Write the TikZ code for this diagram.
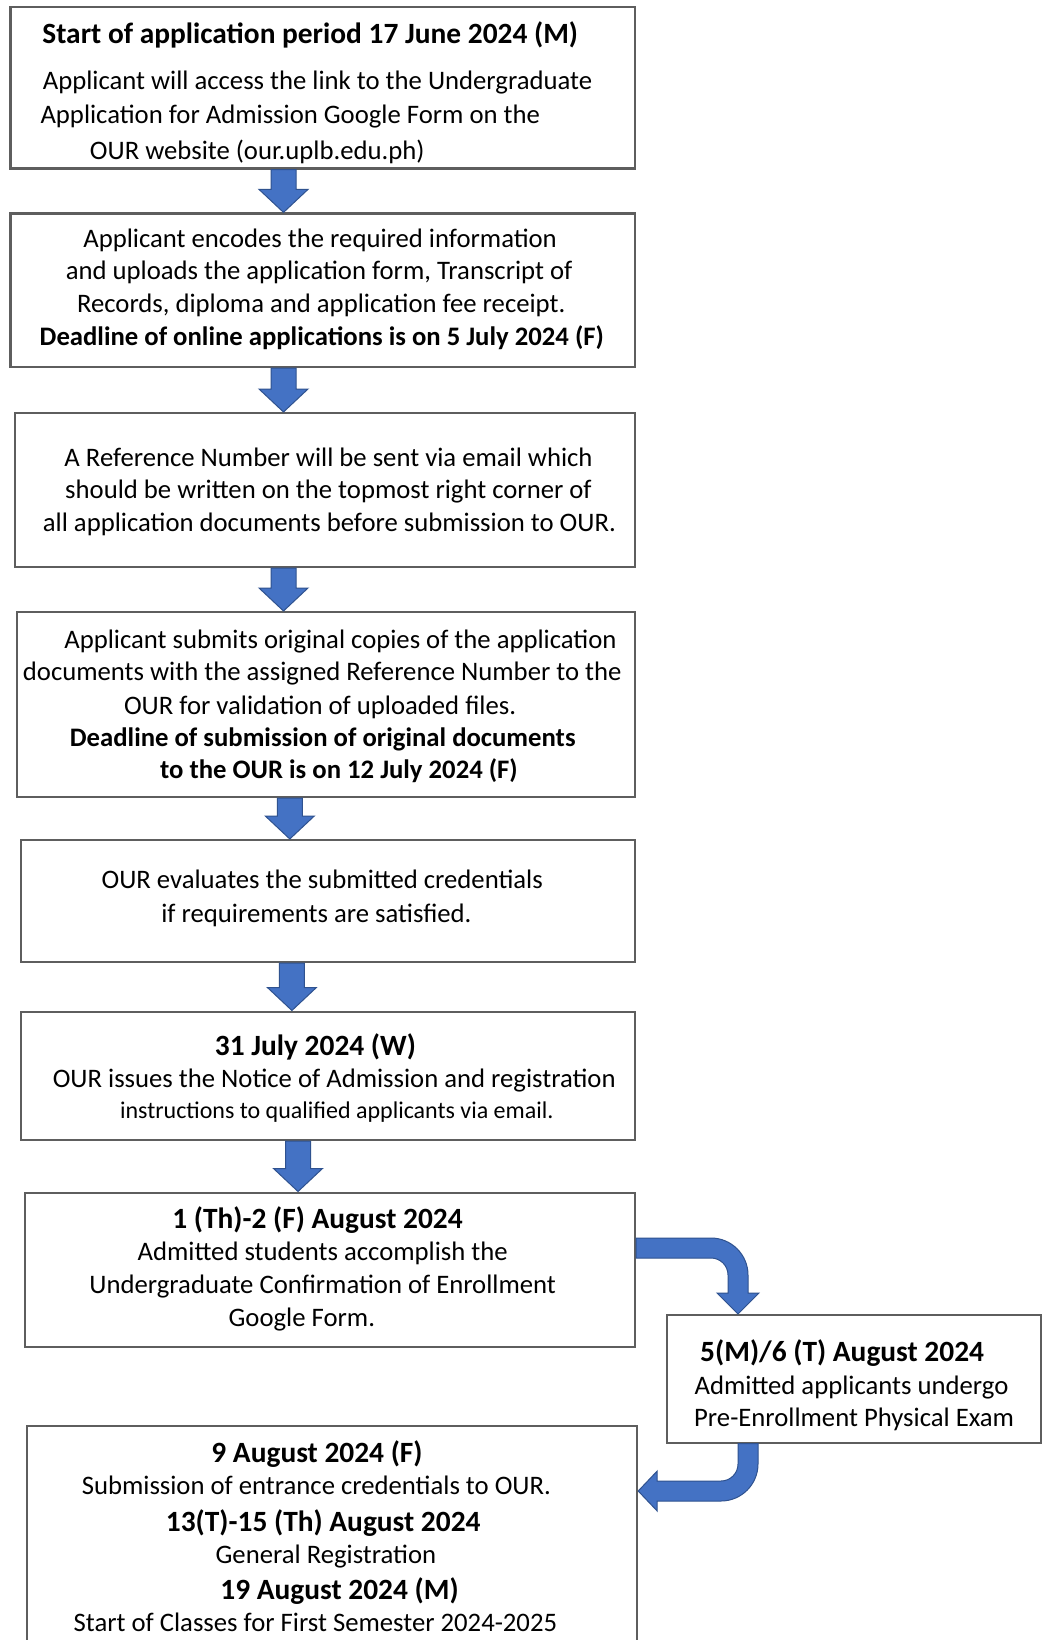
\documentclass[tikz,border=0pt]{standalone}
\usepackage{fontspec}
\setmainfont{Carlito}
\usetikzlibrary{calc}
\definecolor{boxline}{HTML}{5E5E5E}
\definecolor{arrfill}{HTML}{4472C4}
\definecolor{arrline}{HTML}{2F528F}
\tikzset{
  box/.style={draw=boxline, line width=2.2pt, fill=white, inner sep=0pt, anchor=north west},
  txt/.style={inner sep=0pt, anchor=base, yshift=-2pt, text=black, font=\fontsize{26.7pt}{32pt}\selectfont},
  btxt/.style={txt, font=\fontsize{26.7pt}{32pt}\selectfont\bfseries},
  htxt/.style={txt, font=\fontsize{29.4pt}{34pt}\selectfont\bfseries},
  stxt/.style={txt, font=\fontsize{24pt}{28pt}\selectfont},
  blockarrow/.style={fill=arrfill, draw=arrline, line width=1pt, line join=miter}
}
\newcommand\downblock[2]{%
  \filldraw[blockarrow] let \p1=(#1), \p2=(#2) in
    (\x1-12.5pt,\y1) -- (\x1-12.5pt,\y2+23pt) -- (\x1-24.5pt,\y2+23pt) -- (\x1,\y2)
    -- (\x1+24.5pt,\y2+23pt) -- (\x1+12.5pt,\y2+23pt) -- (\x1+12.5pt,\y1) -- cycle;}
\begin{document}
\begin{tikzpicture}[x=1pt,y=-1pt]
\clip (0,0) rectangle (1044,1640);
\fill[white] (0,0) rectangle (1044,1640);
% boxes
\node[box, minimum width=624.6pt, minimum height=161.1pt] (b1) at (9.4,6.3) {};
\node[box, minimum width=624.6pt, minimum height=153.6pt] (b2) at (9.4,212.4) {};
\node[box, minimum width=620.4pt, minimum height=154pt] (b3) at (13.6,412) {};
\node[box, minimum width=618.3pt, minimum height=185pt] (b4) at (15.7,611) {};
\node[box, minimum width=614.1pt, minimum height=122pt] (b5) at (19.9,839) {};
\node[box, minimum width=614.1pt, minimum height=128.5pt] (b6) at (19.9,1010.5) {};
\node[box, minimum width=610pt, minimum height=154.5pt] (b7) at (24,1191.5) {};
\node[box, minimum width=374pt, minimum height=127.5pt] (b8) at (666,1314) {};
\node[box, minimum width=610pt, minimum height=240pt] (b9) at (26,1425) {};
% box 1
\node[htxt] (t1a) at (310.2,41.5) {Start of application period 17 June 2024 (M)};
\node[txt] (t1b) at (317.5,87.5) {Applicant will access the link to the Undergraduate};
\node[txt] (t1c) at (290.3,122) {Application for Admission Google Form on the};
\node[txt] (t1d) at (257.3,157.6) {OUR website (our.uplb.edu.ph)};
% box 2
\node[txt] (t2a) at (320.1,245.5) {Applicant encodes the required information};
\node[txt] (t2b) at (319.1,277.9) {and uploads the application form, Transcript of};
\node[txt] (t2c) at (321.2,310.4) {Records, diploma and application fee receipt.};
\node[btxt] (t2d) at (321.7,343.8) {Deadline of online applications is on 5 July 2024 (F)};
% box 3
\node[txt] (t3a) at (328.5,464.1) {A Reference Number will be sent via email which};
\node[txt] (t3b) at (328.5,496.6) {should be written on the topmost right corner of};
\node[txt] (t3c) at (329.5,529) {all application documents before submission to OUR.};
% box 4
\node[txt] (t4a) at (340.5,646.2) {Applicant submits original copies of the application};
\node[txt] (t4b) at (322.2,678.6) {documents with the assigned Reference Number to the};
\node[txt] (t4c) at (320.1,712.1) {OUR for validation of uploaded files.};
\node[btxt] (t4d) at (322.7,744.5) {Deadline of submission of original documents};
\node[btxt] (t4e) at (338.9,776.9) {to the OUR is on 12 July 2024 (F)};
% box 5
\node[txt] (t5a) at (322.2,886.8) {OUR evaluates the submitted credentials};
\node[txt] (t5b) at (316.4,920.2) {if requirements are satisfied.};
% box 6
\node[htxt] (t6a) at (315.4,1053) {31 July 2024 (W)};
\node[txt] (t6b) at (334.2,1085.5) {OUR issues the Notice of Admission and registration};
\node[stxt] (t6c) at (336.8,1116) {instructions to qualified applicants via email.};
% box 7
\node[htxt] (t7a) at (317.5,1226.7) {1 (Th)-2 (F) August 2024};
\node[txt] (t7b) at (322.7,1258.1) {Admitted students accomplish the};
\node[txt] (t7c) at (322.7,1291.6) {Undergraduate Confirmation of Enrollment};
\node[txt] (t7d) at (301.8,1324) {Google Form.};
% box 8
\node[htxt] (t8a) at (842.1,1359.5) {5(M)/6 (T) August 2024};
\node[txt] (t8b) at (851.5,1392) {Admitted applicants undergo};
\node[txt] (t8c) at (854.1,1424.5) {Pre-Enrollment Physical Exam};
% box 9
\node[htxt] (t9a) at (317,1460) {9 August 2024 (F)};
\node[txt] (t9b) at (316.4,1492.5) {Submission of entrance credentials to OUR.};
\node[htxt] (t9c) at (323.2,1529) {13(T)-15 (Th) August 2024};
\node[txt] (t9d) at (325.9,1561.5) {General Registration};
\node[htxt] (t9e) at (339.5,1597) {19 August 2024 (M)};
\node[txt] (t9f) at (315.4,1629.5) {Start of Classes for First Semester 2024-2025};
% straight arrows
\coordinate (a1s) at (283.5,0 |- b1.south); \coordinate (a1e) at (283.5,0 |- b2.north);
\coordinate (a2s) at (283.5,0 |- b2.south); \coordinate (a2e) at (283.5,0 |- b3.north);
\coordinate (a3s) at (283.5,0 |- b3.south); \coordinate (a3e) at (283.5,0 |- b4.north);
\coordinate (a4s) at (289.8,0 |- b4.south); \coordinate (a4e) at (289.8,0 |- b5.north);
\coordinate (a5s) at (291.9,0 |- b5.south); \coordinate (a5e) at (291.9,0 |- b6.north);
\coordinate (a6s) at (298,0 |- b6.south);   \coordinate (a6e) at (298,0 |- b7.north);
\downblock{a1s}{a1e}
\downblock{a2s}{a2e}
\downblock{a3s}{a3e}
\downblock{a4s}{a4e}
\downblock{a5s}{a5e}
\downblock{a6s}{a6e}
% bent arrow b7 -> b8
\coordinate (c1s) at (b7.east |- 0,1248);
\coordinate (c1e) at (738,0 |- b8.north);
\filldraw[blockarrow] let \p1=(c1s), \p2=(c1e) in
  (\x1,\y1+10pt) -- (\x2-27pt,\y1+10pt)
  .. controls (\x2-6.6pt,\y1+10pt) and (\x2+10pt,\y1-6.6pt) .. (\x2+10pt,\y1-27pt)
  -- (\x2+10pt,\y2+21pt) -- (\x2+21pt,\y2+21pt) -- (\x2,\y2) -- (\x2-21pt,\y2+21pt)
  -- (\x2-10pt,\y2+21pt) -- (\x2-10pt,\y1-27pt)
  .. controls (\x2-10pt,\y1-17.6pt) and (\x2-17.6pt,\y1-10pt) .. (\x2-27pt,\y1-10pt)
  -- (\x1,\y1-10pt) -- cycle;
% bent arrow b8 -> b9
\coordinate (c2s) at (748,0 |- b8.south);
\coordinate (c2e) at (b9.east |- 0,1491);
\filldraw[blockarrow] let \p1=(c2s), \p2=(c2e) in
  (\x1-10pt,\y1) -- (\x1+10pt,\y1) -- (\x1+10pt,\y2+27pt)
  .. controls (\x1+10pt,\y2+6.6pt) and (\x1-6.6pt,\y2-10pt) .. (\x1-27pt,\y2-10pt)
  -- (\x2+19pt,\y2-10pt) -- (\x2+19pt,\y2-20pt) -- (\x2,\y2) -- (\x2+19pt,\y2+20pt)
  -- (\x2+19pt,\y2+10pt) -- (\x1-27pt,\y2+10pt)
  .. controls (\x1-17.6pt,\y2+10pt) and (\x1-10pt,\y2+17.6pt) .. (\x1-10pt,\y2+27pt)
  -- cycle;
\end{tikzpicture}
\end{document}
